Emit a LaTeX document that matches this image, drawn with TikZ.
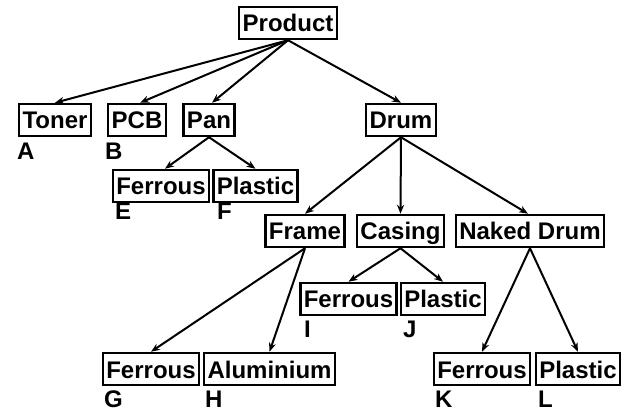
\documentclass[tikz,border=0pt]{standalone}
\usepackage{fontspec}
\setmainfont{Liberation Sans}
\usetikzlibrary{arrows.meta}
\begin{document}
\begin{tikzpicture}[x=1pt,y=-1pt,
  box/.style={draw, line width=2.5pt, font=\fontsize{24}{26}\selectfont\bfseries, inner xsep=3.5pt, inner ysep=7pt, text height=18pt, text depth=0pt},
  lbl/.style={anchor=base west, inner sep=0pt, text depth=0pt, font=\fontsize{24}{26}\selectfont\bfseries},
  arr/.style={line width=2pt, -{Stealth[length=9pt,width=7pt]}}]
\useasboundingbox (0,0) rectangle (629,411);
\fill[white] (0,0) rectangle (629,411);
\node[box] (product) at (288,23) {Product};
\node[box] (toner) at (55,120) {Toner};
\node[box] (pcb) at (137,120) {PCB};
\node[box] (pan) at (209,120) {Pan};
\node[box] (drum) at (401,120) {Drum};
\node[box] (fe) at (161,186) {Ferrous};
\node[box] (pf) at (255.5,186) {Plastic};
\node[box] (frame) at (305,231) {Frame};
\node[box] (casing) at (400.5,231) {Casing};
\node[box] (naked) at (530,231) {Naked Drum};
\node[box] (fi) at (348.5,299) {Ferrous};
\node[box] (pj) at (443,299) {Plastic};
\node[box] (fg) at (151,369) {Ferrous};
\node[box] (alu) at (269.5,369) {Aluminium};
\node[box] (fk) at (482,369) {Ferrous};
\node[box] (pl) at (578,369) {Plastic};
\node[lbl] (la) at (17,160) {A};
\node[lbl] (lb) at (105,160) {B};
\node[lbl] (le) at (115,220) {E};
\node[lbl] (lf) at (217,220) {F};
\node[lbl] (lg) at (104,407) {G};
\node[lbl] (lh) at (205,407) {H};
\node[lbl] (li) at (304,338) {I};
\node[lbl] (lj) at (403,338) {J};
\node[lbl] (lk) at (435,407) {K};
\node[lbl] (ll) at (538,407) {L};
\draw[arr] (product.south) -- (toner.north);
\draw[arr] (product.south) -- ([xshift=3pt]pcb.north);
\draw[arr] (product.south) -- ([xshift=3pt]pan.north);
\draw[arr] (product.south) -- (drum.north);
\draw[arr] (pan.south) -- ([xshift=4pt]fe.north);
\draw[arr] (pan.south) -- (pf.north);
\draw[arr] (drum.south) -- (frame.north);
\draw[arr] (drum.south) -- (casing.north);
\draw[arr] (drum.south) -- ([xshift=-2pt]naked.north);
\draw[arr] (frame.south) -- (fg.north);
\draw[arr] (frame.south) -- (alu.north);
\draw[arr] (casing.south) -- (fi.north);
\draw[arr] (casing.south) -- (pj.north);
\draw[arr] (naked.south) -- (fk.north);
\draw[arr] (naked.south) -- (pl.north);
\end{tikzpicture}
\end{document}
